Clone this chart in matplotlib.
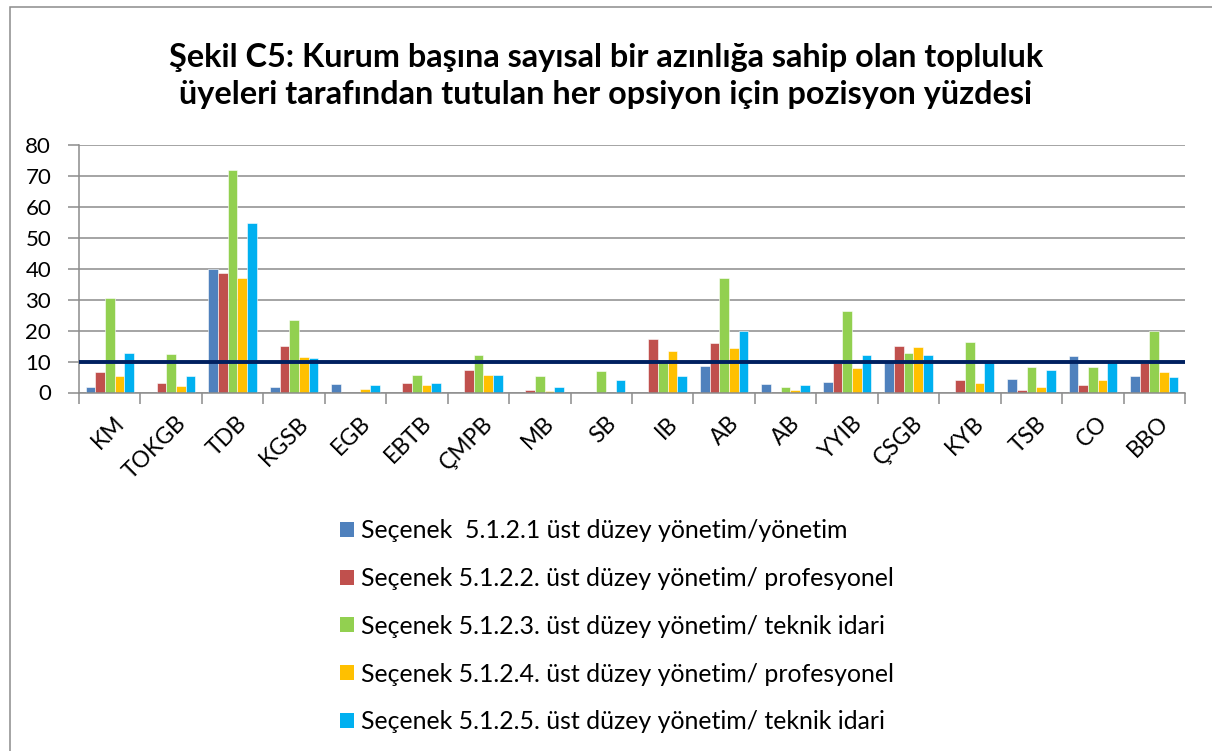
import numpy as np
import matplotlib.pyplot as plt
from matplotlib.patches import Patch, Rectangle

plt.rcParams['font.family'] = ['Lato', 'DejaVu Sans']

# categories and series
kurumlar = ["KM", "TOKGB", "TDB", "KGSB", "EGB", "EBTB", "ÇMPB", "MB", "SB",
            "IB", "AB", "AB", "YYIB", "ÇSGB", "KYB", "TSB", "CO", "BBO"]
secenek_1 = [1.9, 0, 39.9, 1.9, 2.9, 0, 0, 0, 0, 0, 8.7, 2.8, 3.3, 10.0, 0, 4.5, 11.9, 5.4]
secenek_2 = [6.6, 3.0, 38.6, 14.9, 0, 3.0, 7.3, 0.9, 0, 17.3, 16.0, 0, 9.5, 15.1, 4.0, 0.8, 2.4, 9.6]
secenek_3 = [30.6, 12.3, 72.0, 23.4, 0, 5.5, 12.0, 5.4, 6.8, 10.0, 36.9, 1.9, 26.5, 12.7, 16.3, 8.2, 8.2, 19.8]
secenek_4 = [5.3, 2.0, 37.0, 11.5, 1.0, 2.3, 5.6, 0.6, 0, 13.4, 14.3, 0.9, 7.8, 14.7, 3.0, 1.8, 4.2, 6.6]
secenek_5 = [12.9, 5.2, 54.7, 11.0, 2.4, 3.0, 5.5, 1.8, 4.0, 5.4, 19.8, 2.5, 12.1, 12.2, 10.0, 7.2, 10.0, 4.9]
esik = 10

etiketler = ["Seçenek  5.1.2.1 üst düzey yönetim/yönetim",
             "Seçenek 5.1.2.2. üst düzey yönetim/ profesyonel",
             "Seçenek 5.1.2.3. üst düzey yönetim/ teknik idari",
             "Seçenek 5.1.2.4. üst düzey yönetim/ profesyonel",
             "Seçenek 5.1.2.5. üst düzey yönetim/ teknik idari"]
renkler = ["#4F81BD", "#C0504D", "#92D050", "#FFC000", "#00B0F0"]

fig = plt.figure(figsize=(12.12, 7.51), dpi=100)
ax = fig.add_axes([79 / 1212, 1 - 392.5 / 751, (1185 - 79) / 1212, (392.5 - 145) / 751])

x = np.arange(len(kurumlar))
w = 0.157
seriler = [secenek_1, secenek_2, secenek_3, secenek_4, secenek_5]
for i, (s, c) in enumerate(zip(seriler, renkler)):
    ax.bar(x + (i - 2) * w, s, width=w, color=c, edgecolor="white", linewidth=0.4, zorder=2)

ax.axhline(esik, color="#002060", linewidth=2.8, zorder=3)

ax.set_xlim(-0.5, len(kurumlar) - 0.5)
ax.set_ylim(0, 80)
ax.set_yticks(range(0, 81, 10))
ax.yaxis.grid(True, color="#8c8c8c", linewidth=1.1, zorder=0)
ax.set_axisbelow(True)
for sp in ["top", "right"]:
    ax.spines[sp].set_visible(False)
for sp in ["left", "bottom"]:
    ax.spines[sp].set_color("#8c8c8c")
    ax.spines[sp].set_linewidth(1.1)
ax.tick_params(axis="y", length=8, color="#8c8c8c", width=1.1, labelsize=16, pad=12)

# ticks between categories, labels at centres
ax.set_xticks(np.arange(-0.5, len(kurumlar), 1))
ax.set_xticklabels([])
ax.tick_params(axis="x", length=8, color="#8c8c8c", width=1.1)
for xi, lab in zip(x, kurumlar):
    ax.text(xi + 0.06, -6.5, lab, rotation=45, ha="right", va="top",
            rotation_mode="anchor", fontsize=16.5)

fig.text(0.5, 1 - 76 / 751,
         "Şekil C5: Kurum başına sayısal bir azınlığa sahip olan topluluk\n"
         "üyeleri tarafından tutulan her opsiyon için pozisyon yüzdesi",
         ha="center", va="center", fontsize=23.3, fontweight="bold", linespacing=1.3)

handles = [Patch(facecolor=c, edgecolor="none") for c in renkler]
fig.legend(handles, etiketler, loc="upper left",
           bbox_to_anchor=(340 / 1212, 1 - 519 / 751), frameon=False,
           fontsize=17.9, handlelength=0.55, handleheight=0.55, handletextpad=0.3,
           labelspacing=1.0, borderpad=0, borderaxespad=0)

# outer chart border (only left and top are visible in the crop)
fig.patches.append(Rectangle((10 / 1212, -0.1), 1.2, 1 - 7 / 751 + 0.1,
                             transform=fig.transFigure, fill=False,
                             edgecolor="#8c8c8c", linewidth=1.1))

fig.savefig("out.png", dpi=100)
